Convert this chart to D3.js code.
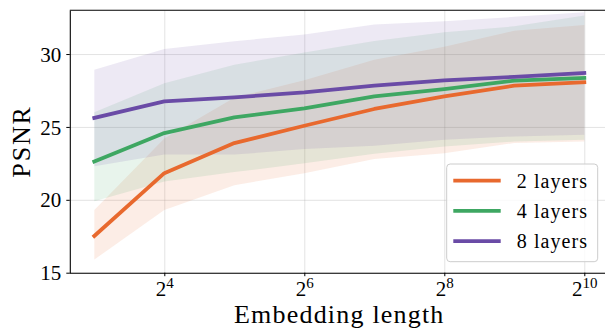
<!DOCTYPE html>
<html>
<head>
<meta charset="utf-8">
<script src="https://cdn.jsdelivr.net/npm/d3@7"></script>
<style>
  html, body { margin: 0; padding: 0; background: #fff; }
  svg { display: block; }
  text { font-family: "Liberation Serif", "Times New Roman", serif; fill: #000; }
</style>
</head>
<body>
<svg id="chart" width="605" height="329"></svg>
<script>
// ---- data ----
const exponents = [3, 4, 5, 6, 7, 8, 9, 10];          // embedding length = 2^e
const xTickExps = [4, 6, 8, 10];
const yTicks = [15, 20, 25, 30];
const seriesNames = ["2 layers", "4 layers", "8 layers"];
const seriesColors = ["#e8692e", "#3ea762", "#6a4ba6"];

const psnr2 = [17.52, 21.83, 23.89, 25.08, 26.23, 27.10, 27.83, 28.06];
const psnr4 = [22.63, 24.58, 25.65, 26.27, 27.10, 27.60, 28.18, 28.36];
const psnr8 = [25.62, 26.75, 27.03, 27.37, 27.83, 28.20, 28.43, 28.70];

const lo2 = [15.90, 19.30, 21.00, 21.83, 22.80, 23.20, 23.90, 24.00];
const hi2 = [19.30, 24.20, 27.00, 28.20, 29.60, 30.50, 31.60, 32.00];
const lo4 = [19.90, 21.25, 21.90, 22.50, 23.16, 23.66, 24.00, 24.12];
const hi4 = [26.00, 28.00, 29.27, 30.10, 30.90, 31.50, 31.90, 32.64];
const lo8 = [22.30, 23.10, 23.10, 23.48, 23.70, 24.12, 24.35, 24.46];
const hi8 = [28.93, 30.35, 30.88, 31.34, 32.02, 32.25, 32.55, 32.87];

const seriesMean = [psnr2, psnr4, psnr8];
const seriesLo = [lo2, lo4, lo8];
const seriesHi = [hi2, hi4, hi8];

// ---- layout ----
const svg = d3.select("#chart");
const L = 69.8, R = 608.8, T = 10.3, B = 272.7;

const x = d3.scaleLog().base(2).domain([Math.pow(2, 2.65), Math.pow(2, 10.35)]).range([L, R]);
const y = d3.scaleLinear().domain([15, 33]).range([B, T]);

// grid
const grid = svg.append("g");
grid.append("g").attr("transform", `translate(0,${B})`)
  .call(d3.axisBottom(x).tickValues(xTickExps.map(e => Math.pow(2, e))).tickSize(-(B - T)).tickFormat(""))
  .call(g => g.select(".domain").remove())
  .call(g => g.selectAll("line").attr("stroke", "#b0b0b0").attr("stroke-opacity", 0.35).attr("stroke-width", 1));
grid.append("g").attr("transform", `translate(${L},0)`)
  .call(d3.axisLeft(y).tickValues(yTicks).tickSize(-(R - L)).tickFormat(""))
  .call(g => g.select(".domain").remove())
  .call(g => g.selectAll("line").attr("stroke", "#b0b0b0").attr("stroke-opacity", 0.35).attr("stroke-width", 1));

// bands
const area = d3.area()
  .x(d => x(Math.pow(2, d.e)))
  .y0(d => y(d.lo))
  .y1(d => y(d.hi));
seriesMean.forEach((m, i) => {
  const pts = exponents.map((e, j) => ({ e, lo: seriesLo[i][j], hi: seriesHi[i][j] }));
  svg.append("path").datum(pts)
    .attr("d", area)
    .attr("fill", seriesColors[i])
    .attr("fill-opacity", 0.12);
});

// lines
const line = d3.line().x(d => x(Math.pow(2, d.e))).y(d => y(d.v));
seriesMean.forEach((m, i) => {
  const pts = exponents.map((e, j) => ({ e, v: m[j] }));
  svg.append("path").datum(pts)
    .attr("d", line)
    .attr("fill", "none")
    .attr("stroke", seriesColors[i])
    .attr("stroke-width", 3.8)
    .attr("stroke-linecap", "square")
    .attr("stroke-linejoin", "round");
});

// axes
const xAxis = svg.append("g").attr("transform", `translate(0,${B})`)
  .call(d3.axisBottom(x).tickValues(xTickExps.map(e => Math.pow(2, e))).tickSize(3.5).tickSizeOuter(0).tickFormat(""));
xAxis.select(".domain").attr("stroke", "#000").attr("stroke-width", 1.1).attr("d", `M${L},0.5H${R}`);
xAxis.selectAll(".tick line").attr("stroke", "#000").attr("stroke-width", 1);
xAxis.selectAll(".tick").each(function(d) {
  const e = Math.round(Math.log2(d));
  const t = d3.select(this).append("text")
    .attr("y", 23.7).attr("text-anchor", "middle").attr("font-size", 21).attr("fill", "#000");
  t.append("tspan").text("2");
  t.append("tspan").attr("dy", -8.4).attr("font-size", 15).text(e);
});

const yAxis = svg.append("g").attr("transform", `translate(${L},0)`)
  .call(d3.axisLeft(y).tickValues(yTicks).tickSize(3.5).tickSizeOuter(0).tickFormat(d3.format("d")));
yAxis.select(".domain").attr("stroke", "#000").attr("stroke-width", 1.1);
yAxis.selectAll(".tick line").attr("stroke", "#000").attr("stroke-width", 1);
yAxis.selectAll(".tick text")
  .attr("x", -8.5).attr("dy", "0.34em")
  .attr("font-size", 21).attr("font-family", "Liberation Serif, serif").attr("fill", "#000");

// top spine
svg.append("line").attr("x1", L).attr("x2", R).attr("y1", T).attr("y2", T)
  .attr("stroke", "#000").attr("stroke-width", 1.1);

// axis titles
svg.append("text")
  .attr("x", (L + R) / 2).attr("y", 322.5)
  .attr("text-anchor", "middle").attr("font-size", 26).attr("letter-spacing", 1.2)
  .text("Embedding length");
svg.append("text")
  .attr("transform", `translate(29.5,${(T + B) / 2}) rotate(-90)`)
  .attr("text-anchor", "middle").attr("font-size", 26).attr("letter-spacing", 1.8)
  .text("PSNR");

// legend
const lg = svg.append("g");
lg.append("rect")
  .attr("x", 446.7).attr("y", 164).attr("width", 151).attr("height", 97.7)
  .attr("rx", 3.5).attr("fill", "#fff").attr("fill-opacity", 0.8)
  .attr("stroke", "#cccccc").attr("stroke-width", 1);
seriesNames.forEach((name, i) => {
  const yy = 180.7 + i * 30.2;
  lg.append("line").attr("x1", 453.3).attr("x2", 500.7).attr("y1", yy).attr("y2", yy)
    .attr("stroke", seriesColors[i]).attr("stroke-width", 3.8);
  lg.append("text").attr("x", 516.7).attr("y", yy + 6.8)
    .attr("font-size", 20).attr("letter-spacing", 1.1).text(name);
});
</script>
</body>
</html>
